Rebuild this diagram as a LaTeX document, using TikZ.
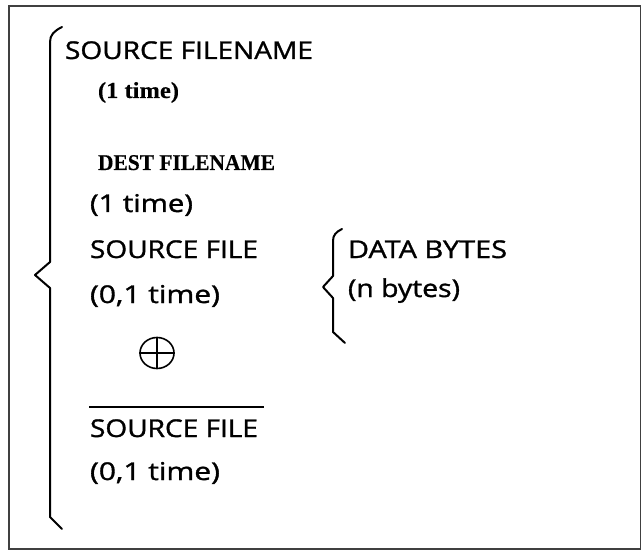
\documentclass[tikz,border=0pt]{standalone}
\usepackage{fontspec}
\usetikzlibrary{shapes.geometric}
\newfontfamily\labelsans[FakeBold=1.2]{Open Sans}
\newfontfamily\labelserif[FakeBold=0.4]{Liberation Serif}
% fit a text to a given width, keeping its natural height
\newcommand{\fitto}[2]{\resizebox{#1}{\height}{#2}}
\begin{document}
\begin{tikzpicture}[x=1bp,y=-1bp,
  lbl/.style={anchor=base west, inner sep=0pt, outer sep=0pt,
              font=\labelsans\fontsize{24.5bp}{27bp}\selectfont},
  slbl/.style={anchor=base west, inner sep=0pt, outer sep=0pt,
              font=\labelserif\bfseries\fontsize{22.5bp}{25bp}\selectfont},
  brace/.style={line width=2bp, line join=round, line cap=round},
  frame/.style={line width=1.5bp, draw=black!75}]
\useasboundingbox (0,0) rectangle (641,551);
\draw[frame] (9,6) rectangle (640.5,549);

% outer brace
\coordinate (bt) at (62,27);
\coordinate (bm) at (35,275);
\coordinate (bb) at (62,529);
\draw[brace] (bt) .. controls (54,31) and (50,35) .. (50,42)
  -- (50,262) -- (bm) -- (50,288) -- (50,517) -- (bb);

% inner brace
\coordinate (it) at (342,229);
\coordinate (im) at (323,287);
\coordinate (ib) at (345,343);
\draw[brace] (it) .. controls (336,232) and (333,235) .. (333,241)
  -- (333,276) -- (im) -- (333,298) -- (333,332) -- (ib);

% record fields
\node[lbl]  (srcname)  at (65,59)  {\fitto{248bp}{SOURCE FILENAME}};
\node[slbl, font=\labelserif\bfseries\fontsize{23bp}{25bp}\selectfont]
            (srcnum)   at (98,98)  {\fitto{81bp}{(1 time)}};
\node[slbl] (destname) at (98,170) {\fitto{177bp}{DEST FILENAME}};
\node[lbl]  (destnum)  at (90,212) {\fitto{103bp}{(1 time)}};
\node[lbl]  (srcfile)  at (90,258) {\fitto{168bp}{SOURCE FILE}};
\node[lbl]  (srcfnum)  at (90,303) {\fitto{130bp}{(0,1 time)}};

% exclusive-or sign
\node[ellipse, draw, line width=1.6bp, minimum width=34bp, minimum height=31bp,
      inner sep=0pt] (xor) at (157,353) {};
\draw[line width=1.6bp] (xor.north) -- (xor.south);
\draw[line width=1.6bp] (xor.west) -- (xor.east);

% negated field
\node[lbl]  (nsrcfile) at (90,437) {\fitto{168bp}{SOURCE FILE}};
\node[lbl]  (nsrcnum)  at (90,480) {\fitto{130bp}{(0,1 time)}};
\coordinate (barl) at (89,407);
\coordinate (barr) at (264,407);
\draw[line width=2bp] (barl) -- (barr);

% data part
\node[lbl]  (data)     at (348,258) {\fitto{159bp}{DATA BYTES}};
\node[lbl]  (datanum)  at (348,297) {\fitto{112bp}{(n bytes)}};
\end{tikzpicture}
\end{document}
